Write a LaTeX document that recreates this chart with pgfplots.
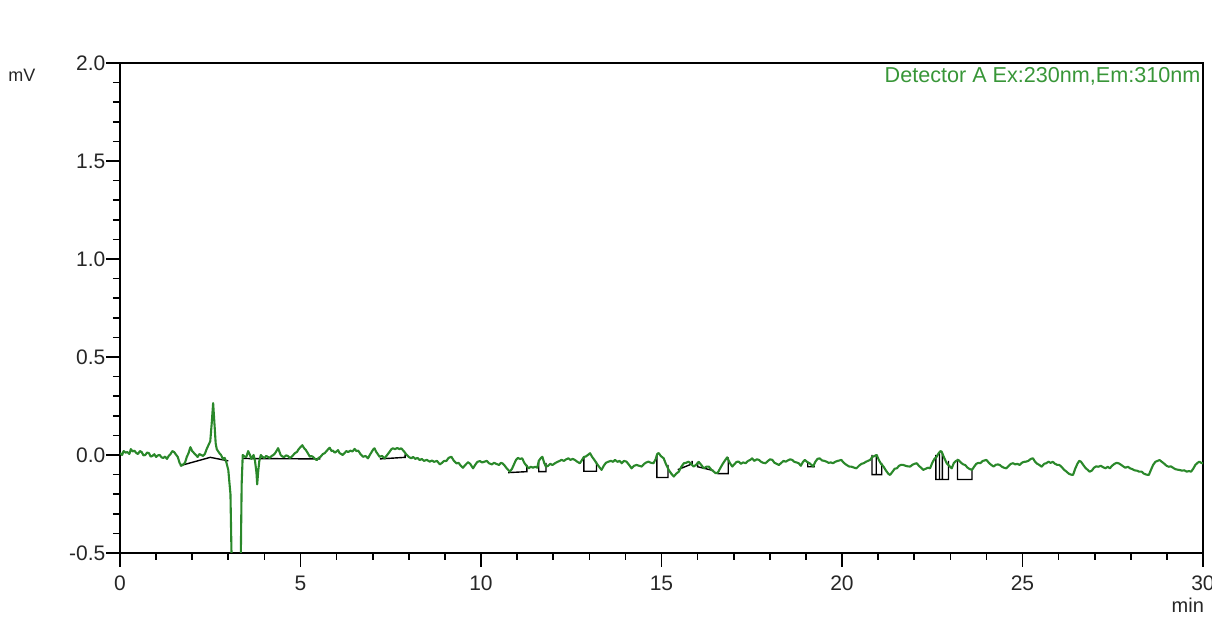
\documentclass[border=0pt]{standalone}
\usepackage{pgfplots}
\pgfplotsset{compat=1.18}
\usepackage{fontspec}
\setmainfont{Liberation Sans}
\definecolor{trace}{RGB}{42,136,42}
\definecolor{dettext}{RGB}{56,150,56}
\begin{document}
\begin{tikzpicture}
\useasboundingbox (0,0) rectangle (606pt,310pt);
\begin{axis}[
  at={(60pt,33.5pt)}, anchor=south west,
  scale only axis, width=541.5pt, height=245pt,
  xmin=0, xmax=30, ymin=-0.5, ymax=2.0,
  xtick={0,5,...,30}, ytick={-0.5,0,0.5,1.0,1.5,2.0},
  minor x tick num=4, minor y tick num=4,
  xtick pos=bottom, ytick pos=left, tick align=outside,
  major tick length=7pt, minor tick length=3.5pt,
  every tick/.style={black, line width=0.8pt},
  axis line style={line width=1pt},
  /pgf/number format/assume math mode=true,
  yticklabel style={/pgf/number format/.cd, fixed, fixed zerofill, precision=1, /tikz/.cd, xshift=3.2pt},
  xticklabel style={/pgf/number format/.cd, fixed, precision=0, /tikz/.cd, yshift=-1pt},
  tick label style={font=\fontsize{10.5}{12}\selectfont, text=black!85},
  ylabel={mV}, ylabel style={rotate=-90, at={(rel axis cs:-0.0905,0.9755)}, anchor=center, font=\fontsize{9}{11}\selectfont, text=black!85},
  xlabel={min}, xlabel style={at={(rel axis cs:0.986,-0.106)}, anchor=center, font=\fontsize{10}{12}\selectfont, text=black!85},
  after end axis/.code={\node[anchor=east, inner sep=0pt, font=\fontsize{10.8}{12}\selectfont, text=dettext] at (rel axis cs:0.998,0.972) {Detector A Ex:230nm,Em:310nm};},
  unbounded coords=jump,
  clip=true,
]
\addplot[black, line width=0.7pt] coordinates {
(1.66,-0.055) (2.5,-0.012) (3.0,-0.03) (3.0,nan)
(3.4,-0.018) (5.55,-0.02) (5.55,nan)
(7.2,-0.02) (7.9,-0.012) (7.9,0.003) (7.9,nan)
(10.75,-0.09) (11.27,-0.085) (11.27,-0.05) (11.27,nan)
(11.6,-0.03) (11.6,-0.085) (11.8,-0.085) (11.8,-0.04) (11.8,nan)
(12.85,-0.01) (12.85,-0.083) (13.2,-0.083) (13.2,-0.034) (13.2,nan)
(14.87,0.005) (14.87,-0.115) (15.18,-0.115) (15.18,-0.05) (15.18,nan)
(15.45,-0.075) (15.85,-0.045) (15.85,-0.03) (15.85,nan)
(16.0,-0.035) (16.0,-0.06) (16.45,-0.08) (16.45,nan)
(16.55,-0.095) (16.85,-0.095) (16.85,-0.012) (16.85,nan)
(19.05,-0.04) (19.05,-0.06) (19.25,-0.06) (19.25,nan)
(20.83,0.0) (20.83,-0.1) (21.1,-0.1) (21.1,-0.04) (21.1,nan)
(20.95,0.0) (20.95,-0.1) (20.95,nan)
(22.6,0.0) (22.6,-0.125) (22.95,-0.125) (22.95,-0.03) (22.95,nan)
(22.7,0.015) (22.7,-0.125) (22.7,nan)
(22.78,0.01) (22.78,-0.125) (22.78,nan)
(23.2,-0.02) (23.2,-0.125) (23.6,-0.125) (23.6,-0.07)
};
\addplot[trace, line width=1.05pt, line join=round] coordinates {
(0.00,0.010) (0.06,0.000) (0.10,0.020) (0.16,0.012) (0.20,0.015) (0.26,0.005) (0.30,0.030) (0.35,0.018) (0.40,0.022)
(0.45,0.010) (0.50,0.005) (0.55,0.020) (0.60,0.015) (0.65,-0.002) (0.70,0.000) (0.75,0.012) (0.80,0.010)
(0.85,-0.008) (0.90,-0.005) (0.95,0.004) (1.00,-0.010) (1.05,-0.002) (1.10,0.000) (1.15,-0.012) (1.20,-0.015)
(1.25,-0.008) (1.30,-0.020) (1.35,-0.005) (1.40,0.005) (1.45,0.020) (1.50,0.015) (1.55,0.002) (1.60,-0.010)
(1.65,-0.040) (1.70,-0.055) (1.75,-0.048) (1.80,-0.040) (1.85,-0.010) (1.90,0.010) (1.95,0.040) (2.00,0.020)
(2.05,0.010) (2.10,0.000) (2.15,-0.010) (2.20,0.005) (2.25,0.000) (2.30,-0.005) (2.35,0.005) (2.40,0.030)
(2.45,0.050) (2.50,0.070) (2.54,0.160) (2.58,0.265) (2.62,0.150) (2.65,0.060) (2.68,0.030) (2.75,0.010)
(2.80,0.000) (2.85,-0.020) (2.90,-0.015) (2.95,-0.040) (3.00,-0.077) (3.06,-0.200) (3.10,-0.620)
(3.34,-0.620) (3.37,-0.150) (3.40,0.000) (3.45,-0.008) (3.50,-0.010) (3.55,0.020) (3.60,0.000) (3.64,-0.020)
(3.70,0.000) (3.74,-0.030) (3.78,-0.090) (3.80,-0.150) (3.83,-0.080) (3.86,-0.030) (3.90,0.000) (3.95,-0.010)
(4.00,-0.015) (4.05,-0.005) (4.10,-0.010) (4.15,-0.015) (4.20,-0.005) (4.25,0.000) (4.30,0.010) (4.35,0.025)
(4.38,0.035) (4.42,0.015) (4.45,0.000) (4.50,-0.008) (4.55,-0.010) (4.60,-0.002) (4.65,-0.005) (4.70,-0.015)
(4.75,-0.010) (4.80,0.000) (4.85,0.010) (4.90,0.015) (4.95,0.030) (5.00,0.040) (5.05,0.050) (5.10,0.035)
(5.15,0.025) (5.20,0.010) (5.26,-0.009) (5.30,-0.005) (5.35,-0.010) (5.40,-0.020) (5.45,-0.026) (5.50,-0.015)
(5.55,-0.010) (5.62,0.005) (5.67,0.009) (5.72,0.020) (5.77,0.030) (5.81,0.037) (5.86,0.020) (5.90,0.022)
(5.95,0.012) (5.99,0.017) (6.04,0.025) (6.08,0.010) (6.13,0.005) (6.17,0.000) (6.22,0.010) (6.27,0.020)
(6.32,0.015) (6.38,0.022) (6.44,0.018) (6.50,0.031) (6.55,0.020) (6.60,0.022) (6.66,0.005) (6.73,-0.009)
(6.80,-0.005) (6.87,-0.017) (6.92,0.000) (6.97,0.015) (7.02,0.030) (7.05,0.034) (7.10,0.015) (7.14,0.005)
(7.19,-0.009) (7.26,-0.005) (7.33,-0.017) (7.40,0.000) (7.47,0.017) (7.52,0.030) (7.56,0.034) (7.62,0.030)
(7.68,0.036) (7.74,0.030) (7.79,0.034) (7.86,0.020) (7.93,0.003) (8.00,-0.010) (8.07,-0.017) (8.12,-0.010)
(8.18,-0.020) (8.24,-0.015) (8.30,-0.026) (8.36,-0.020) (8.42,-0.030) (8.50,-0.025) (8.58,-0.034) (8.64,-0.028)
(8.70,-0.035) (8.78,-0.030) (8.86,-0.048) (8.92,-0.040) (8.98,-0.030) (9.04,-0.031) (9.10,-0.015) (9.18,-0.009)
(9.25,-0.030) (9.32,-0.043) (9.38,-0.040) (9.44,-0.055) (9.50,-0.065) (9.57,-0.050) (9.64,-0.037) (9.70,-0.045)
(9.78,-0.068) (9.84,-0.050) (9.90,-0.035) (9.97,-0.031) (10.03,-0.038) (10.10,-0.034) (10.16,-0.030) (10.22,-0.042)
(10.30,-0.048) (10.36,-0.040) (10.42,-0.045) (10.50,-0.051) (10.55,-0.040) (10.60,-0.043) (10.66,-0.055)
(10.72,-0.070) (10.80,-0.085) (10.86,-0.070) (10.92,-0.045) (10.97,-0.025) (11.02,-0.015) (11.08,-0.020)
(11.14,-0.017) (11.20,-0.040) (11.26,-0.055) (11.32,-0.068) (11.38,-0.060) (11.44,-0.065) (11.50,-0.060)
(11.56,-0.065) (11.60,-0.030) (11.66,-0.015) (11.70,-0.009) (11.75,-0.040) (11.80,-0.060) (11.86,-0.055)
(11.92,-0.045) (11.98,-0.051) (12.05,-0.042) (12.12,-0.035) (12.18,-0.030) (12.23,-0.025) (12.30,-0.030)
(12.36,-0.022) (12.42,-0.017) (12.48,-0.025) (12.54,-0.020) (12.60,-0.025) (12.67,-0.035) (12.74,-0.042)
(12.80,-0.025) (12.85,-0.010) (12.90,-0.008) (12.96,0.000) (13.02,0.009) (13.08,-0.010) (13.14,-0.025)
(13.20,-0.042) (13.27,-0.060) (13.34,-0.076) (13.40,-0.055) (13.46,-0.040) (13.53,-0.034) (13.60,-0.030)
(13.66,-0.035) (13.71,-0.025) (13.78,-0.035) (13.84,-0.030) (13.90,-0.042) (13.96,-0.030) (14.03,-0.034)
(14.10,-0.050) (14.17,-0.068) (14.24,-0.055) (14.31,-0.051) (14.38,-0.055) (14.45,-0.059) (14.52,-0.045)
(14.58,-0.038) (14.64,-0.034) (14.71,-0.040) (14.78,-0.042) (14.84,-0.020) (14.88,0.005) (14.92,0.010)
(14.98,-0.005) (15.06,-0.017) (15.12,-0.045) (15.20,-0.076) (15.27,-0.095) (15.34,-0.110) (15.41,-0.095)
(15.48,-0.085) (15.55,-0.060) (15.62,-0.042) (15.68,-0.040) (15.75,-0.034) (15.82,-0.045) (15.89,-0.059)
(15.96,-0.050) (16.03,-0.035) (16.10,-0.050) (16.17,-0.068) (16.24,-0.060) (16.31,-0.059) (16.38,-0.075)
(16.45,-0.085) (16.50,-0.093) (16.56,-0.090) (16.62,-0.070) (16.68,-0.050) (16.75,-0.030) (16.82,-0.012)
(16.89,-0.040) (16.96,-0.059) (17.03,-0.045) (17.08,-0.035) (17.14,-0.034) (17.20,-0.045) (17.26,-0.038)
(17.33,-0.042) (17.40,-0.030) (17.46,-0.025) (17.51,-0.017) (17.57,-0.030) (17.64,-0.022) (17.70,-0.025)
(17.76,-0.035) (17.82,-0.040) (17.88,-0.042) (17.95,-0.030) (18.01,-0.022) (18.07,-0.025) (18.13,-0.040)
(18.19,-0.045) (18.25,-0.051) (18.32,-0.040) (18.38,-0.030) (18.44,-0.034) (18.50,-0.028) (18.56,-0.022)
(18.62,-0.025) (18.68,-0.035) (18.74,-0.038) (18.80,-0.042) (18.86,-0.055) (18.92,-0.035) (18.97,-0.025)
(19.03,-0.035) (19.10,-0.042) (19.15,-0.050) (19.20,-0.059) (19.26,-0.035) (19.32,-0.020) (19.38,-0.017)
(19.45,-0.028) (19.51,-0.030) (19.57,-0.034) (19.63,-0.040) (19.69,-0.038) (19.75,-0.042) (19.81,-0.035)
(19.88,-0.030) (19.93,-0.028) (19.98,-0.025) (20.05,-0.040) (20.12,-0.050) (20.20,-0.059) (20.27,-0.060)
(20.34,-0.065) (20.40,-0.068) (20.47,-0.055) (20.54,-0.045) (20.60,-0.042) (20.66,-0.035) (20.72,-0.030)
(20.78,-0.025) (20.84,-0.010) (20.90,-0.005) (20.96,0.000) (21.02,-0.025) (21.08,-0.045) (21.15,-0.059)
(21.22,-0.080) (21.28,-0.095) (21.33,-0.102) (21.40,-0.085) (21.46,-0.070) (21.52,-0.068) (21.58,-0.055)
(21.64,-0.050) (21.70,-0.051) (21.76,-0.055) (21.82,-0.058) (21.89,-0.059) (21.95,-0.050) (22.01,-0.045)
(22.07,-0.042) (22.13,-0.055) (22.19,-0.065) (22.25,-0.076) (22.32,-0.070) (22.38,-0.065) (22.44,-0.068)
(22.50,-0.040) (22.56,-0.020) (22.62,-0.009) (22.68,0.010) (22.73,0.020) (22.76,0.017) (22.82,-0.010)
(22.90,-0.042) (22.97,-0.055) (23.04,-0.068) (23.10,-0.040) (23.16,-0.030) (23.22,-0.025) (23.30,-0.040)
(23.36,-0.048) (23.41,-0.051) (23.48,-0.065) (23.54,-0.072) (23.60,-0.076) (23.66,-0.060) (23.72,-0.045)
(23.78,-0.040) (23.83,-0.042) (23.90,-0.030) (23.95,-0.028) (24.00,-0.025) (24.07,-0.040) (24.13,-0.050)
(24.20,-0.059) (24.26,-0.050) (24.32,-0.048) (24.37,-0.051) (24.43,-0.060) (24.49,-0.065) (24.55,-0.068)
(24.62,-0.055) (24.68,-0.045) (24.74,-0.042) (24.80,-0.048) (24.86,-0.045) (24.92,-0.051) (24.98,-0.040)
(25.04,-0.035) (25.10,-0.034) (25.16,-0.030) (25.23,-0.020) (25.29,-0.017) (25.35,-0.035) (25.41,-0.045)
(25.47,-0.051) (25.53,-0.060) (25.60,-0.045) (25.66,-0.042) (25.72,-0.034) (25.78,-0.040) (25.84,-0.035)
(25.90,-0.045) (25.96,-0.050) (26.02,-0.051) (26.08,-0.060) (26.15,-0.075) (26.22,-0.085) (26.28,-0.095)
(26.34,-0.100) (26.40,-0.102) (26.46,-0.070) (26.52,-0.045) (26.57,-0.030) (26.62,-0.034) (26.68,-0.050)
(26.74,-0.065) (26.80,-0.075) (26.86,-0.085) (26.92,-0.080) (26.98,-0.065) (27.04,-0.058) (27.10,-0.060)
(27.17,-0.055) (27.23,-0.062) (27.30,-0.068) (27.36,-0.060) (27.42,-0.068) (27.48,-0.055) (27.55,-0.045)
(27.61,-0.040) (27.67,-0.043) (27.73,-0.050) (27.79,-0.058) (27.85,-0.065) (27.92,-0.060) (27.98,-0.068)
(28.04,-0.072) (28.10,-0.078) (28.17,-0.080) (28.23,-0.085) (28.30,-0.085) (28.36,-0.095) (28.43,-0.100)
(28.50,-0.102) (28.56,-0.075) (28.62,-0.050) (28.68,-0.035) (28.74,-0.030) (28.80,-0.026) (28.86,-0.035)
(28.93,-0.045) (28.99,-0.055) (29.05,-0.060) (29.11,-0.058) (29.17,-0.065) (29.23,-0.072) (29.30,-0.075)
(29.36,-0.077) (29.42,-0.080) (29.48,-0.078) (29.55,-0.085) (29.61,-0.082) (29.67,-0.085) (29.73,-0.070)
(29.79,-0.050) (29.85,-0.040) (29.90,-0.034) (29.95,-0.040) (30.00,-0.043)
};
\end{axis}
\end{tikzpicture}
\end{document}
